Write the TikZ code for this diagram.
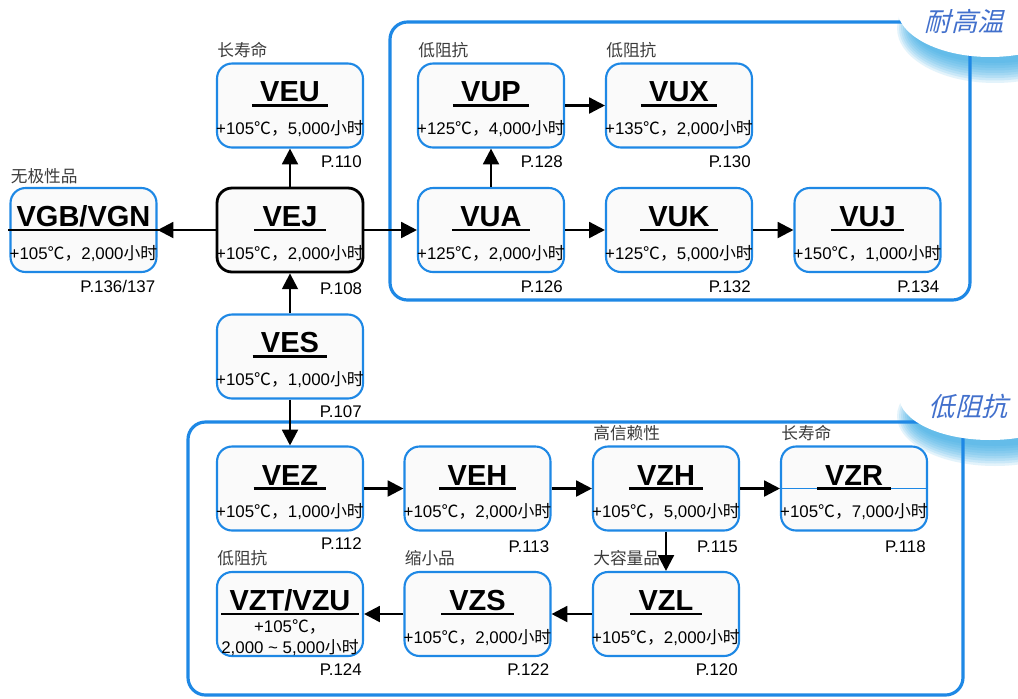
\documentclass[tikz,border=0pt]{standalone}
\usepackage{fontspec}
\setmainfont{Liberation Sans}
\newfontfamily\cjk{Noto Sans CJK SC}
\usetikzlibrary{arrows.meta,calc}
\definecolor{frameblue}{RGB}{30,136,229}
\definecolor{tagblue}{RGB}{66,112,204}
\definecolor{glowblue}{RGB}{40,165,228}
\definecolor{boxfill}{RGB}{250,250,250}
\definecolor{catgray}{RGB}{60,60,60}

\begin{document}
\begin{tikzpicture}[x=0.02cm,y=-0.02cm,
    prod/.style={draw=frameblue,line width=1.2pt,fill=boxfill,rounded corners=0.3cm,
      minimum width=2.92cm,minimum height=1.68cm,inner sep=0pt},
    mainprod/.style={prod,draw=black,line width=1.6pt},
    ttl/.style={anchor=south,font=\fontsize{16.5}{16}\selectfont\bfseries,
      inner xsep=4.5pt,inner ysep=1.8pt,text depth=0pt},
    uline/.style={line width=1.5pt},
    spec/.style={anchor=base,font=\fontsize{9.6}{10}\selectfont,inner sep=0pt},
    page/.style={anchor=base east,font=\fontsize{9.6}{10}\selectfont,inner sep=0pt},
    cat/.style={anchor=base west,font=\cjk\fontsize{9.5}{10}\selectfont,text=catgray,inner sep=0pt},
    link/.style={line width=1.4pt,-{Triangle[length=9pt,width=9pt]}},
    group/.style={draw=frameblue,line width=1.8pt,rounded corners=0.35cm},
    tag/.style={font=\cjk\fontsize{15}{15}\selectfont,text=tagblue,xslant=0.25}
  ]
  \fill [white] (0,0) rectangle (1018,698);
  \useasboundingbox (0,0) rectangle (1018,698);

  % Glow under the two tags
  \foreach \r in {1,...,9} {
    \fill [glowblue,opacity=0.13] (995,28) ellipse ({2cm-\r*0.04cm} and {1.15cm-\r*0.05cm});
    \fill [glowblue,opacity=0.13] (995,416) ellipse ({2cm-\r*0.04cm} and {1.05cm-\r*0.05cm});
  }

  % Drawing group frames
  \draw [group] (390,22) rectangle (970,300);
  \draw [group] (188,422) rectangle (963,695);

  % Marking tags
  \fill [white] (990,8) ellipse (1.86cm and 0.98cm);
  \node [tag] (hightemp) at (967,21) {耐高温};
  \fill [white] (990,396) ellipse (1.82cm and 0.88cm);
  \node [tag] (lowimp) at (971,406) {低阻抗};

  % Product VEU
  \node [prod] (veu) at (290,105.5) {};
  \node [ttl] (veu-t) at (veu.center) {VEU};
  \draw [uline] (veu-t.south west) -- (veu-t.south east);
  \node [spec] (veu-s) at ($(veu.center)+(0,29)$) {+105{\cjk ℃，}5,000{\cjk 小时}};
  \node [page] (veu-p) at ($(veu.south east)+(-2,19)$) {P.110};
  \node [cat] (veu-c) at ($(veu.north west)+(1,-6)$) {长寿命};

  % Product VGB/VGN
  \node [prod] (vgb) at (83.5,230) {};
  \node [ttl] (vgb-t) at (vgb.center) {VGB/VGN};
  \draw [uline] (vgb-t.south west) -- (vgb-t.south east);
  \node [spec] (vgb-s) at ($(vgb.center)+(0,29)$) {+105{\cjk ℃，}2,000{\cjk 小时}};
  \node [page] (vgb-p) at ($(vgb.south east)+(-2,19)$) {P.136/137};
  \node [cat] (vgb-c) at ($(vgb.north west)+(1,-4)$) {无极性品};

  % Product VEJ
  \node [mainprod] (vej) at (290,230) {};
  \node [ttl] (vej-t) at (vej.center) {VEJ};
  \draw [uline] (vej-t.south west) -- (vej-t.south east);
  \node [spec] (vej-s) at ($(vej.center)+(0,29)$) {+105{\cjk ℃，}2,000{\cjk 小时}};
  \node [page] (vej-p) at ($(vej.south east)+(-2,21)$) {P.108};

  % Product VES
  \node [prod] (ves) at (290,356.5) {};
  \node [ttl] (ves-t) at (ves.center) {VES};
  \draw [uline] (ves-t.south west) -- (ves-t.south east);
  \node [spec] (ves-s) at ($(ves.center)+(0,29)$) {+105{\cjk ℃，}1,000{\cjk 小时}};
  \node [page] (ves-p) at ($(ves.south east)+(-2,18)$) {P.107};

  % Product VUP
  \node [prod] (vup) at (491,105.5) {};
  \node [ttl] (vup-t) at (vup.center) {VUP};
  \draw [uline] (vup-t.south west) -- (vup-t.south east);
  \node [spec] (vup-s) at ($(vup.center)+(0,29)$) {+125{\cjk ℃，}4,000{\cjk 小时}};
  \node [page] (vup-p) at ($(vup.south east)+(-2,19)$) {P.128};
  \node [cat] (vup-c) at ($(vup.north west)+(1,-6)$) {低阻抗};

  % Product VUX
  \node [prod] (vux) at (679,105.5) {};
  \node [ttl] (vux-t) at (vux.center) {VUX};
  \draw [uline] (vux-t.south west) -- (vux-t.south east);
  \node [spec] (vux-s) at ($(vux.center)+(0,29)$) {+135{\cjk ℃，}2,000{\cjk 小时}};
  \node [page] (vux-p) at ($(vux.south east)+(-2,19)$) {P.130};
  \node [cat] (vux-c) at ($(vux.north west)+(1,-6)$) {低阻抗};

  % Product VUA
  \node [prod] (vua) at (491,230) {};
  \node [ttl] (vua-t) at (vua.center) {VUA};
  \draw [uline] (vua-t.south west) -- (vua-t.south east);
  \node [spec] (vua-s) at ($(vua.center)+(0,29)$) {+125{\cjk ℃，}2,000{\cjk 小时}};
  \node [page] (vua-p) at ($(vua.south east)+(-2,19)$) {P.126};

  % Product VUK
  \node [prod] (vuk) at (679,230) {};
  \node [ttl] (vuk-t) at (vuk.center) {VUK};
  \draw [uline] (vuk-t.south west) -- (vuk-t.south east);
  \node [spec] (vuk-s) at ($(vuk.center)+(0,29)$) {+125{\cjk ℃，}5,000{\cjk 小时}};
  \node [page] (vuk-p) at ($(vuk.south east)+(-2,19)$) {P.132};

  % Product VUJ
  \node [prod] (vuj) at (867.5,230) {};
  \node [ttl] (vuj-t) at (vuj.center) {VUJ};
  \draw [uline] (vuj-t.south west) -- (vuj-t.south east);
  \node [spec] (vuj-s) at ($(vuj.center)+(0,29)$) {+150{\cjk ℃，}1,000{\cjk 小时}};
  \node [page] (vuj-p) at ($(vuj.south east)+(-2,19)$) {P.134};

  % Product VEZ
  \node [prod] (vez) at (290,488.5) {};
  \node [ttl] (vez-t) at (vez.center) {VEZ};
  \draw [uline] (vez-t.south west) -- (vez-t.south east);
  \node [spec] (vez-s) at ($(vez.center)+(0,29)$) {+105{\cjk ℃，}1,000{\cjk 小时}};
  \node [page] (vez-p) at ($(vez.south east)+(-2,18)$) {P.112};

  % Product VEH
  \node [prod] (veh) at (477.5,488.5) {};
  \node [ttl] (veh-t) at (veh.center) {VEH};
  \draw [uline] (veh-t.south west) -- (veh-t.south east);
  \node [spec] (veh-s) at ($(veh.center)+(0,29)$) {+105{\cjk ℃，}2,000{\cjk 小时}};
  \node [page] (veh-p) at ($(veh.south east)+(-2,21)$) {P.113};

  % Product VZH
  \node [prod] (vzh) at (666,488.5) {};
  \node [ttl] (vzh-t) at (vzh.center) {VZH};
  \draw [uline] (vzh-t.south west) -- (vzh-t.south east);
  \node [spec] (vzh-s) at ($(vzh.center)+(0,29)$) {+105{\cjk ℃，}5,000{\cjk 小时}};
  \node [page] (vzh-p) at ($(vzh.south east)+(-2,21)$) {P.115};
  \node [cat] (vzh-c) at ($(vzh.north west)+(1,-6)$) {高信赖性};

  % Product VZR
  \node [prod] (vzr) at (854,488.5) {};
  \draw [frameblue,line width=0.6pt] (vzr.west) -- (vzr.east);
  \node [ttl] (vzr-t) at (vzr.center) {VZR};
  \draw [uline] (vzr-t.south west) -- (vzr-t.south east);
  \node [spec] (vzr-s) at ($(vzr.center)+(0,29)$) {+105{\cjk ℃，}7,000{\cjk 小时}};
  \node [page] (vzr-p) at ($(vzr.south east)+(-2,21)$) {P.118};
  \node [cat] (vzr-c) at ($(vzr.north west)+(1,-6)$) {长寿命};

  % Product VZT/VZU
  \node [prod] (vzt) at (290,614) {};
  \node [ttl] (vzt-t) at (vzt.center) {VZT/VZU};
  \draw [uline] (vzt-t.south west) -- (vzt-t.south east);
  \node [spec] (vzt-s) at ($(vzt.center)+(0,18)$) {+105{\cjk ℃，}};
  \node [spec] (vzt-r) at ($(vzt.center)+(0,39)$) {2,000 \textasciitilde\ 5,000{\cjk 小时}};
  \node [page] (vzt-p) at ($(vzt.south east)+(-2,18)$) {P.124};
  \node [cat] (vzt-c) at ($(vzt.north west)+(1,-6)$) {低阻抗};

  % Product VZS
  \node [prod] (vzs) at (477.5,614) {};
  \node [ttl] (vzs-t) at (vzs.center) {VZS};
  \draw [uline] (vzs-t.south west) -- (vzs-t.south east);
  \node [spec] (vzs-s) at ($(vzs.center)+(0,29)$) {+105{\cjk ℃，}2,000{\cjk 小时}};
  \node [page] (vzs-p) at ($(vzs.south east)+(-2,18)$) {P.122};
  \node [cat] (vzs-c) at ($(vzs.north west)+(1,-6)$) {缩小品};

  % Product VZL
  \node [prod] (vzl) at (666,614) {};
  \node [ttl] (vzl-t) at (vzl.center) {VZL};
  \draw [uline] (vzl-t.south west) -- (vzl-t.south east);
  \node [spec] (vzl-s) at ($(vzl.center)+(0,29)$) {+105{\cjk ℃，}2,000{\cjk 小时}};
  \node [page] (vzl-p) at ($(vzl.south east)+(-2,18)$) {P.120};
  \node [cat] (vzl-c) at ($(vzl.north west)+(1,-6)$) {大容量品};

  % Drawing links
  \draw [link] (vej) -- (veu);
  \draw [link] (vej) -- (vgb);
  \draw [link] (vej) -- (vua);
  \draw [link] (ves) -- (vej);
  \draw [link] (ves) -- (vez);
  \draw [link] (vua) -- (vup);
  \draw [link] (vup) -- (vux);
  \draw [link] (vua) -- (vuk);
  \draw [link] (vuk) -- (vuj);
  \draw [link] (vez) -- (veh);
  \draw [link] (veh) -- (vzh);
  \draw [link] (vzh) -- (vzr);
  \draw [link] (vzh) -- (vzl);
  \draw [link] (vzl) -- (vzs);
  \draw [link] (vzs) -- (vzt);
\end{tikzpicture}
\end{document}
